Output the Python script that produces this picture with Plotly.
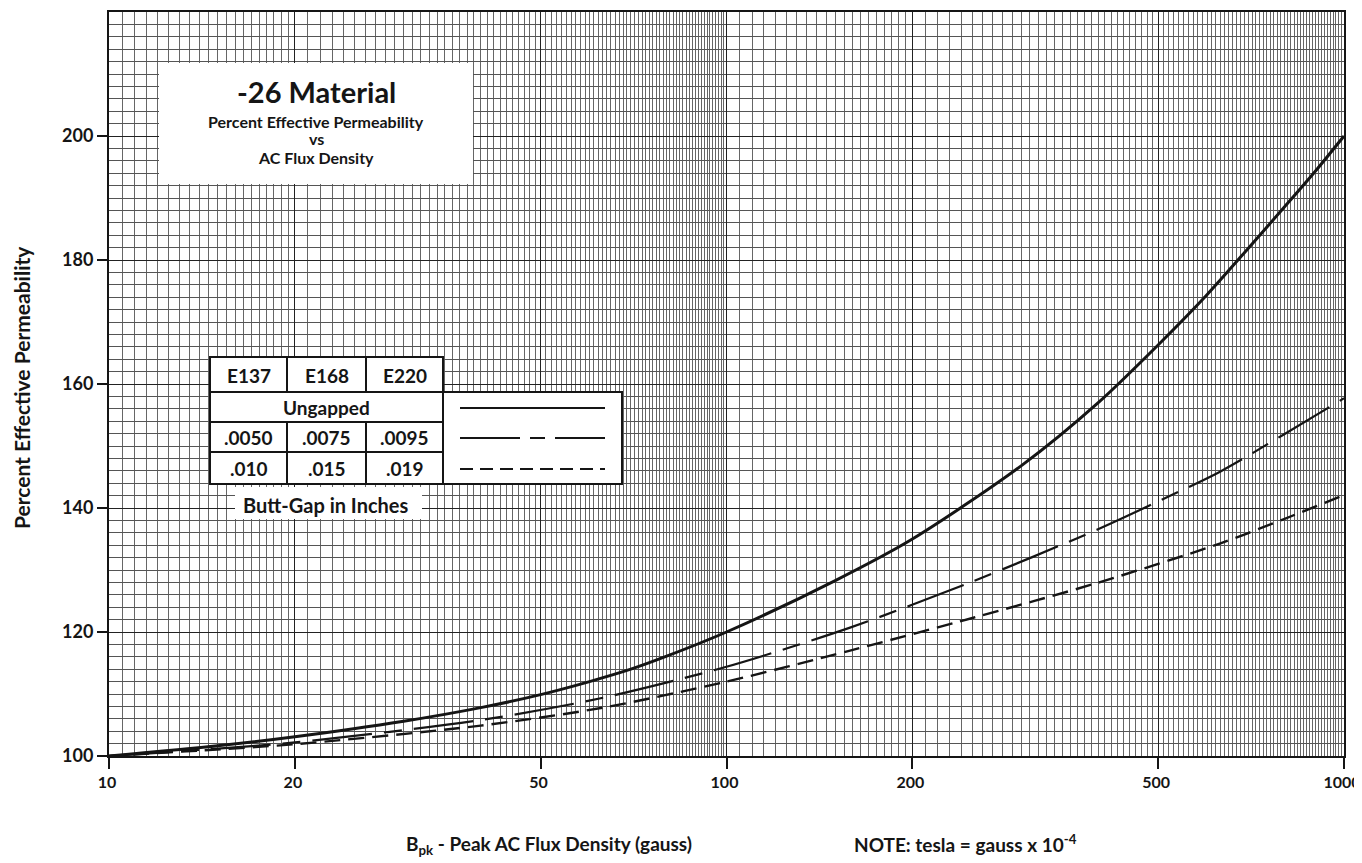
import numpy as np
import plotly.graph_objects as go

# ---------------- data ----------------
flux_ungapped = [10, 15, 20, 30, 40, 50, 60, 70, 80, 100, 150, 200, 300, 400, 500, 600, 700, 800, 900, 1000]
perm_ungapped = [100, 101.64, 103.1, 105.6, 107.8, 109.9, 112.0, 114.0, 116.1, 120.0, 128.3, 135.0, 146.8,
                 157.0, 166.3, 174.4, 181.9, 188.5, 194.4, 200.0]

flux_gap1 = [10, 14.1, 20, 40, 63.1, 100, 158.5, 251, 398, 501, 631, 794, 1000]
perm_gap1 = [100, 101.0, 102.2, 105.8, 109.4, 114.4, 120.7, 128.2, 136.5, 141.1, 145.9, 151.7, 157.7]

flux_gap2 = [10, 14.1, 20, 40, 63.1, 100, 158.5, 251, 398, 631, 794, 1000]
perm_gap2 = [100, 100.9, 101.9, 104.9, 107.8, 112.0, 117.0, 122.3, 127.9, 134.3, 138.1, 142.1]

x_ticks = [10, 20, 50, 100, 200, 500, 1000]
y_ticks = [100, 120, 140, 160, 180, 200]

col_heads = ["E137", "E168", "E220"]
row_gap1 = [".0050", ".0075", ".0095"]
row_gap2 = [".010", ".015", ".019"]

# ---------------- layout geometry (page pixels) ----------------
OFF = 8                      # page body margin
W, H = 1362 - OFF, 863 - OFF
L, R, T, B = 109, 1344, 12, 756
PW, PH = R - L, B - T
FONT = "Lato"
INK = "#151515"


def px(xp):
    return (xp - L) / PW


def py(yp):
    return (B - yp) / PH


# log-paper grid positions
grid_x = np.concatenate([np.arange(10, 20, 0.5), np.arange(20, 100, 1.0),
                         np.arange(100, 200, 5.0), np.arange(200, 1001, 10.0)])
grid_y = np.arange(100, 221, 2)

fig = go.Figure()

fig.add_trace(go.Scatter(x=flux_ungapped, y=perm_ungapped, mode="lines",
                         line=dict(color=INK, width=3, shape="spline", smoothing=0.8),
                         showlegend=False, hoverinfo="skip"))
fig.add_trace(go.Scatter(x=flux_gap1, y=perm_gap1, mode="lines",
                         line=dict(color=INK, width=2.2, shape="spline", smoothing=0.8,
                                   dash="60px,12px,18px,12px"),
                         showlegend=False, hoverinfo="skip"))
fig.add_trace(go.Scatter(x=flux_gap2, y=perm_gap2, mode="lines",
                         line=dict(color=INK, width=2.4, shape="spline", smoothing=0.8, dash="16px,8px"),
                         showlegend=False, hoverinfo="skip"))

shapes = []
annotations = []


def rect(x0, y0, x1, y1, border=True, width=2):
    shapes.append(dict(type="rect", xref="paper", yref="paper",
                       x0=px(x0), x1=px(x1), y0=py(y1), y1=py(y0),
                       fillcolor="white",
                       line=dict(color=INK if border else "white", width=width if border else 0),
                       layer="above"))


def text(xp, yp, s, size, anchor="center"):
    annotations.append(dict(xref="paper", yref="paper", x=px(xp), y=py(yp), text=s,
                            showarrow=False, xanchor=anchor, yanchor="middle",
                            font=dict(family=FONT, size=size, color=INK)))


# title box
rect(159, 63, 473, 184, border=False)
text(316, 91, "<b>-26 Material</b>", 29)
text(316, 122, "<b>Percent Effective Permeability</b>", 16)
text(316, 139, "<b>vs</b>", 16)
text(316, 157, "<b>AC Flux Density</b>", 16)

# legend table
cols = [210, 287, 366, 443]
for i, h in enumerate(col_heads):
    rect(cols[i], 357, cols[i + 1], 392)
    text((cols[i] + cols[i + 1]) / 2, 375, "<b>%s</b>" % h, 19)
rect(210, 392, 443, 422)
text(326, 407, "<b>Ungapped</b>", 19)
for i, v in enumerate(row_gap1):
    rect(cols[i], 422, cols[i + 1], 452)
    text((cols[i] + cols[i + 1]) / 2, 437, "<b>%s</b>" % v, 19)
for i, v in enumerate(row_gap2):
    rect(cols[i], 452, cols[i + 1], 484)
    text((cols[i] + cols[i + 1]) / 2, 468, "<b>%s</b>" % v, 19)
rect(443, 392, 622, 484)

for yl, dash, w in [(408, "solid", 2), (438, "60px,10px,15px,10px", 2), (469, "13px,7px", 2)]:
    shapes.append(dict(type="line", xref="paper", yref="paper", x0=px(460), x1=px(605),
                       y0=py(yl), y1=py(yl), line=dict(color=INK, width=w, dash=dash), layer="above"))

rect(235, 487, 422, 519, border=False)
text(326, 505, "<b>Butt-Gap in Inches</b>", 20)

# axis titles
annotations.append(dict(xref="paper", yref="paper", x=px(21), y=py(388),
                        text="<b>Percent Effective Permeability</b>",
                        textangle=-90, showarrow=False, xanchor="center", yanchor="middle",
                        font=dict(family=FONT, size=21, color=INK)))
text(404, 845, "<b>B<sub>pk</sub> - Peak AC Flux Density (gauss)</b>", 19, anchor="left")
text(852, 843, "<b>NOTE: tesla = gauss x 10<sup>-4</sup></b>", 19, anchor="left")

fig.update_layout(
    width=W, height=H,
    margin=dict(l=L - OFF, r=W + OFF - R, t=T - OFF, b=H + OFF - B),
    paper_bgcolor="white", plot_bgcolor="white",
    shapes=shapes, annotations=annotations,
    font=dict(family=FONT, color=INK),
)

fig.update_xaxes(type="log", range=[1, 3], tickmode="array", tickvals=x_ticks, automargin=False,
                 ticktext=["<b>%d</b>" % v for v in x_ticks],
                 tickfont=dict(family=FONT, size=16, color=INK), ticklabeloverflow="allow",
                 ticklabelshift=-2,
                 ticks="outside", ticklen=11, tickwidth=1.5, tickcolor=INK,
                 showgrid=True, gridcolor="#222", gridwidth=1.3,
                 showline=True, linecolor=INK, linewidth=2, mirror=True, zeroline=False,
                 minor=dict(tickmode="array", tickvals=list(grid_x), showgrid=True,
                            gridcolor="#666", gridwidth=1, ticks=""))
fig.update_yaxes(range=[100, 220], tickmode="array", tickvals=y_ticks, automargin=False,
                 ticktext=["<b>%d</b>" % v for v in y_ticks],
                 tickfont=dict(family=FONT, size=18, color=INK),
                 ticks="outside", ticklen=10, tickwidth=1.5, tickcolor=INK,
                 showgrid=True, gridcolor="#222", gridwidth=1.3,
                 showline=True, linecolor=INK, linewidth=2, mirror=True, zeroline=False,
                 minor=dict(tickmode="array", tickvals=list(grid_y), showgrid=True,
                            gridcolor="#555", gridwidth=1, ticks=""))

fig.write_html("out.html")
